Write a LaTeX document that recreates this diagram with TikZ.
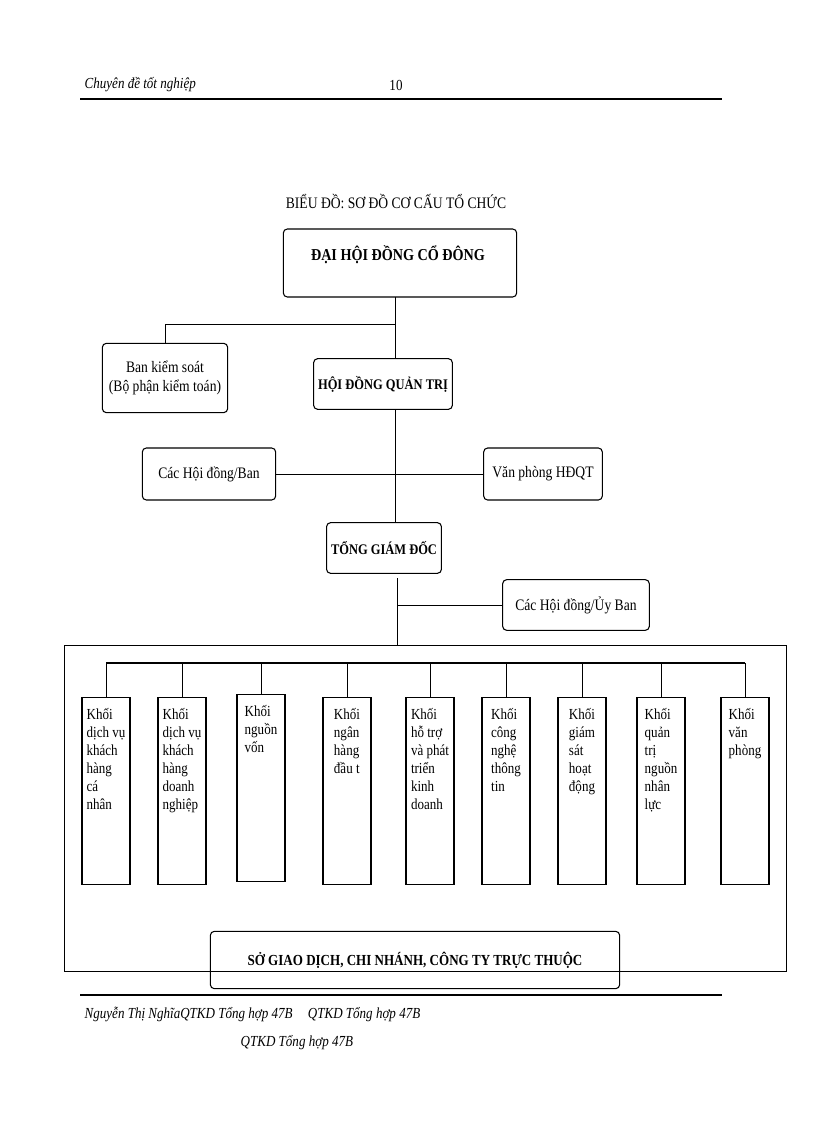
\documentclass[tikz,border=0pt]{standalone}
\usepackage{fontspec}
\setmainfont{Liberation Serif}[FakeStretch=0.85]
\begin{document}
\begin{tikzpicture}[x=0.75pt,y=-0.75pt,
  bx/.style={draw,rounded corners=3pt,line width=0.8pt},
  kh/.style={draw,line width=0.8pt,minimum width=36pt,minimum height=140pt,anchor=north},
  kt/.style={anchor=north,align=left,font=\fontsize{11.5}{13.5}\selectfont,inner sep=1pt},
  ln/.style={line width=0.6pt},
  fw/.style={font=\fontsize{12}{14}\selectfont}]
\useasboundingbox (0,0) rectangle (816,1123);
\node[anchor=west,font=\itshape\fontsize{11.5}{13}\selectfont] (hd) at (80,85) {Chuyên đề tốt nghiệp};
\node[font=\fontsize{11.5}{13}\selectfont] (pg) at (396,85) {10};
\draw[line width=1.6pt] (80,99) coordinate (hl1) -- (722,99) coordinate (hr1);
\node[fw] (title) at (396,202) {BIỂU ĐỒ: SƠ ĐỒ CƠ CẤU TỔ CHỨC};
\node[bx,minimum width=175pt,minimum height=51pt] (dh) at (400,263) {};
\node[font=\bfseries\fontsize{12.5}{14}\selectfont] (dht) at (398,255) {ĐẠI HỘI ĐỒNG CỔ ĐÔNG};
\node[bx,minimum width=94pt,minimum height=52pt,align=center,fw] (bks) at (165,378) {Ban kiểm soát\\(Bộ phận kiểm toán)};
\node[bx,minimum width=103pt,minimum height=38pt,font=\bfseries\fontsize{11}{13}\selectfont] (hdqt) at (383,384) {HỘI ĐỒNG QUẢN TRỊ};
\node[bx,minimum width=100pt,minimum height=39pt,fw] (chd) at (209,474) {Các Hội đồng/Ban};
\node[bx,minimum width=89pt,minimum height=39pt,fw] (vp) at (543,474) {Văn phòng HĐQT};
\node[bx,minimum width=84pt,minimum height=38pt,font=\bfseries\fontsize{11}{13}\selectfont] (tgd) at (384,548) {TỔNG GIÁM ĐỐC};
\node[bx,minimum width=110pt,minimum height=38pt,fw] (cub) at (576,605) {Các Hội đồng/Ủy Ban};
\node[draw,line width=0.8pt,minimum width=541pt,minimum height=245pt] (big) at (425.5,808.5) {};
\node[bx,minimum width=307pt,minimum height=43pt,font=\bfseries\fontsize{11.5}{13}\selectfont] (sgd) at (415,960) {SỞ GIAO DỊCH, CHI NHÁNH, CÔNG TY TRỰC THUỘC};
\coordinate (j1) at (395,324);
\coordinate (t1) at (397,578);
\coordinate (t2) at (397,605);
\coordinate (t3) at (397,645);
\draw[ln] (395,297) -- (395,359);
\draw[ln] (j1) -| (bks.north);
\draw[ln] (395,410) -- (395,523);
\draw[ln] (chd.east) -- (vp.west);
\draw[ln] (t1) -- (t3);
\draw[ln] (t2) -- (cub.west);
\foreach \n/\x/\y/\t in {k1/106/697/{Khối\\dịch vụ\\khách\\hàng\\cá\\nhân},
  k2/182/697/{Khối\\dịch vụ\\khách\\hàng\\doanh\\nghiệp},
  k3/261/694/{Khối\\nguồn\\vốn},
  k4/347/697/{Khối\\ngân\\hàng\\đầu t},
  k5/430/697/{Khối\\hỗ trợ\\và phát\\triển\\kinh\\doanh},
  k6/506/697/{Khối\\công\\nghệ\\thông\\tin},
  k7/582/697/{Khối\\giám\\sát\\hoạt\\động},
  k8/661/697/{Khối\\quản\\trị\\nguồn\\nhân\\lực},
  k9/745/697/{Khối\\văn\\phòng}}{
  \node[kh] (\n) at (\x,\y) {};
  \node[kt] (\n t) at (\x,\y+10) {\t};
  \draw[ln] (\x,663) -- (\n.north);
}
\draw[line width=1.2pt] (106,663) -- (745,663);
\draw[line width=1.6pt] (80,995) -- (722,995);
\node[anchor=west,font=\itshape\fontsize{11.5}{13}\selectfont] (f1) at (80,1014) {Nguyễn Thị NghĩaQTKD Tổng hợp 47B\quad QTKD Tổng hợp 47B};
\node[anchor=west,font=\itshape\fontsize{11.5}{13}\selectfont] (f2) at (236,1043) {QTKD Tổng hợp 47B};
\end{tikzpicture}
\end{document}
